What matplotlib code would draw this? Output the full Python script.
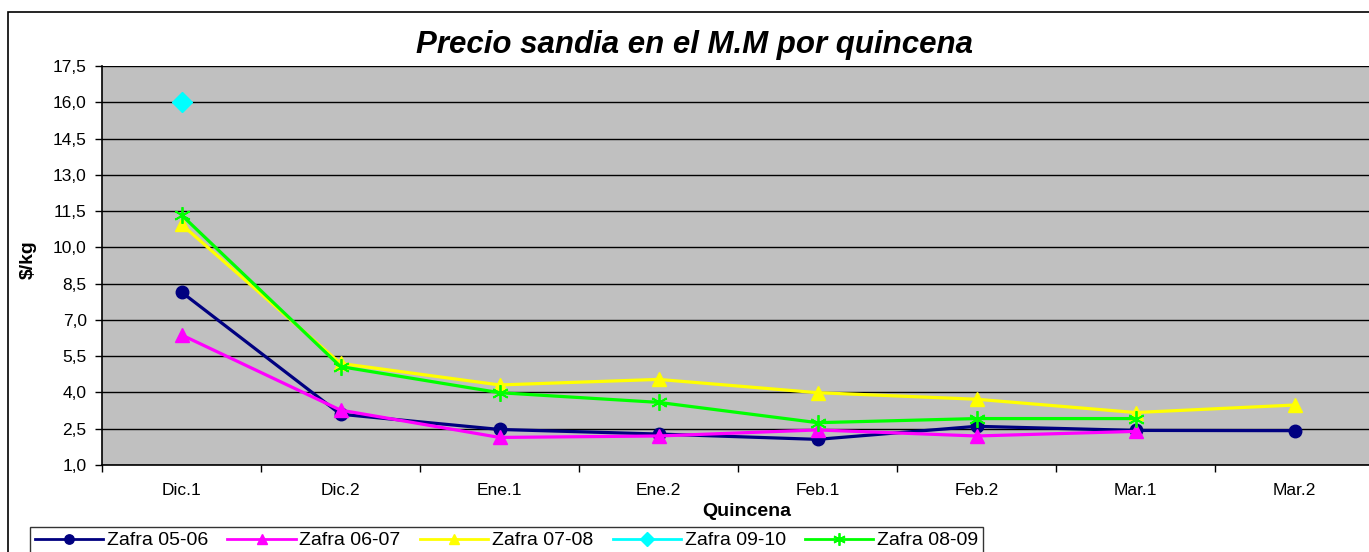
import numpy as np
import matplotlib
matplotlib.use("Agg")
import matplotlib.pyplot as plt
from matplotlib.patches import Rectangle
from matplotlib.ticker import FixedLocator

plt.rcParams['font.family'] = ['Liberation Sans', 'DejaVu Sans']

categories = ["Dic.1", "Dic.2", "Ene.1", "Ene.2", "Feb.1", "Feb.2", "Mar.1", "Mar.2"]
nan = np.nan
zafra_05_06 = [8.15, 3.10, 2.47, 2.28, 2.06, 2.60, 2.43, 2.42]
zafra_06_07 = [6.38, 3.27, 2.14, 2.20, 2.45, 2.20, 2.39, nan]
zafra_07_08 = [10.95, 5.20, 4.31, 4.54, 3.99, 3.72, 3.17, 3.48]
zafra_09_10 = [16.0, nan, nan, nan, nan, nan, nan, nan]
zafra_08_09 = [11.34, 5.07, 3.99, 3.59, 2.75, 2.92, 2.92, nan]
yticks = [1.0, 2.5, 4.0, 5.5, 7.0, 8.5, 10.0, 11.5, 13.0, 14.5, 16.0, 17.5]

W, H = 1369, 552
fig = plt.figure(figsize=(W / 100, H / 100), dpi=100)
fig.patch.set_facecolor('white')

# outer chart border
fig.patches.append(Rectangle((8 / W, -0.05), 1.2, (H - 12) / H + 0.05,
                             transform=fig.transFigure, fill=False,
                             edgecolor='black', linewidth=1.2))

ax = fig.add_axes([102 / W, (H - 465) / H, (1374 - 102) / W, (465 - 66) / H])
ax.set_facecolor('#C0C0C0')

x = np.arange(len(categories))
lw = 2.3
ax.plot(x, zafra_05_06, color='#000080', lw=lw, marker='o', markersize=9, label='Zafra 05-06', zorder=3)
ax.plot(x, zafra_06_07, color='#FF00FF', lw=lw, marker='^', markersize=10, label='Zafra 06-07', zorder=3)
ax.plot(x, zafra_07_08, color='#FFFF00', lw=lw, marker='^', markersize=10, label='Zafra 07-08', zorder=3)
ax.plot(x, zafra_09_10, color='#00FFFF', lw=lw, marker='D', markersize=10, label='Zafra 09-10', zorder=3)
ax.plot(x, zafra_08_09, color='#00FF00', lw=lw, marker=(6, 2, 0), markersize=12,
        markeredgewidth=1.3, label='Zafra 08-09', zorder=4)

ax.set_xlim(-0.5, 7.5)
ax.set_ylim(1.0, 17.5)
ax.set_yticks(yticks)
ax.set_yticklabels([f"{v:.1f}".replace('.', ',') for v in yticks], fontsize=12.5)
ax.yaxis.grid(True, color='black', linewidth=1.0)
ax.set_axisbelow(True)
ax.tick_params(axis='y', direction='out', length=5, width=1, pad=6)

ax.set_xticks(x)
ax.set_xticklabels(categories, fontsize=12.5)
ax.tick_params(axis='x', which='major', length=0, pad=13)
ax.xaxis.set_minor_locator(FixedLocator(np.arange(-0.5, 8.0, 1.0)))
ax.tick_params(axis='x', which='minor', direction='out', length=5, width=1)

for s in ['top', 'right']:
    ax.spines[s].set_visible(False)
ax.spines['left'].set_linewidth(1.2)
ax.spines['bottom'].set_linewidth(1.2)

fig.text(695 / W, 1 - 45 / H, "Precio sandia en el M.M por quincena", fontsize=22.5,
         fontweight='bold', fontstyle='italic', ha='center', va='center')
fig.text(747 / W, 1 - 512 / H, "Quincena", fontsize=14, fontweight='bold',
         ha='center', va='center')
fig.text(28 / W, 1 - 260 / H, "$/kg", fontsize=14, fontweight='bold',
         ha='center', va='center', rotation=90)

leg = fig.legend(loc='upper left', bbox_to_anchor=(30 / W, 1 - 527 / H), ncol=5,
                 fontsize=14, frameon=True, fancybox=False, edgecolor='black',
                 handlelength=3.5, handletextpad=0.2, columnspacing=1.0,
                 borderpad=0.25, borderaxespad=0, markerscale=0.75)
leg.get_frame().set_linewidth(1.0)
for h in leg.get_lines():
    h.set_linewidth(2.0)

fig.savefig("out.png", dpi=100)
